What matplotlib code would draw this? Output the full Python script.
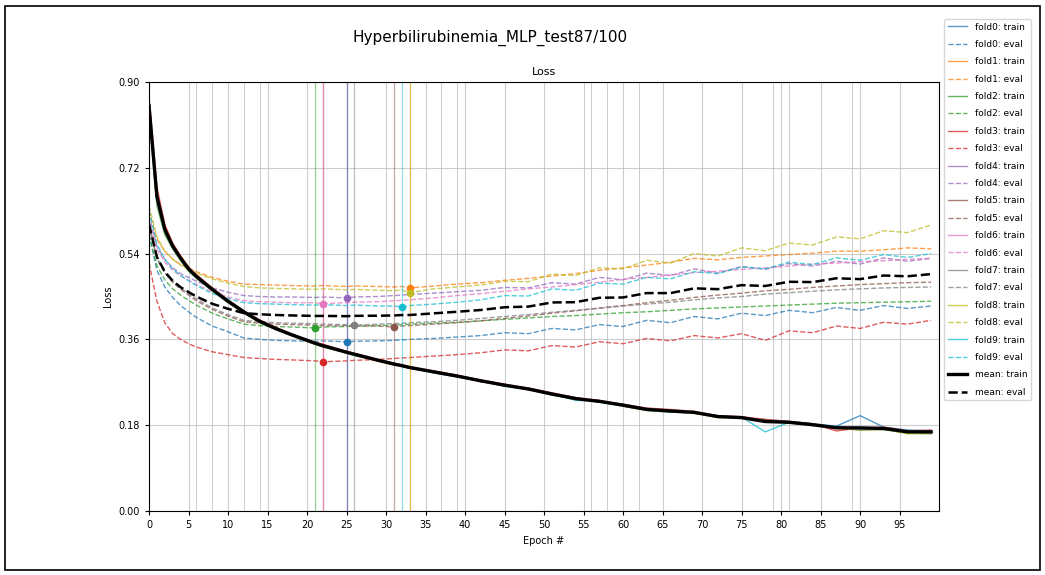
import matplotlib
matplotlib.use("Agg")
import matplotlib.pyplot as plt
from matplotlib.patches import Rectangle
import numpy as np


EPOCHS = [0, 1, 2, 3, 4, 5, 6, 8, 10, 12, 14, 16, 18, 21, 22, 25, 26, 29, 31, 32, 33,
          36, 39, 42, 45, 48, 51, 54, 57, 60, 63, 66, 69, 72, 75, 78, 81, 84, 87, 90,
          93, 96, 99]

fold0_train = [0.84, 0.65, 0.585, 0.552, 0.528, 0.506, 0.49, 0.463, 0.442, 0.42, 0.4, 0.384, 0.372, 0.354, 0.346, 0.335, 0.33, 0.318, 0.31, 0.303, 0.3, 0.29, 0.281, 0.275, 0.262, 0.258, 0.247, 0.238, 0.228, 0.224, 0.215, 0.208, 0.205, 0.2, 0.195, 0.192, 0.188, 0.183, 0.178, 0.2, 0.176, 0.17, 0.168]
fold1_train = [0.86, 0.67, 0.6, 0.56, 0.535, 0.512, 0.495, 0.468, 0.438, 0.416, 0.396, 0.381, 0.369, 0.35, 0.345, 0.331, 0.327, 0.314, 0.306, 0.304, 0.299, 0.294, 0.285, 0.271, 0.266, 0.254, 0.247, 0.234, 0.232, 0.22, 0.211, 0.212, 0.205, 0.2, 0.194, 0.192, 0.184, 0.183, 0.173, 0.17, 0.171, 0.168, 0.164]
fold2_train = [0.83, 0.64, 0.58, 0.55, 0.525, 0.503, 0.488, 0.462, 0.437, 0.415, 0.395, 0.381, 0.368, 0.35, 0.344, 0.332, 0.326, 0.315, 0.307, 0.306, 0.302, 0.29, 0.282, 0.272, 0.262, 0.255, 0.243, 0.235, 0.229, 0.22, 0.211, 0.207, 0.209, 0.196, 0.197, 0.188, 0.185, 0.179, 0.174, 0.17, 0.171, 0.163, 0.162]
fold3_train = [0.87, 0.68, 0.6, 0.562, 0.535, 0.512, 0.496, 0.468, 0.443, 0.42, 0.401, 0.386, 0.372, 0.354, 0.35, 0.335, 0.331, 0.318, 0.31, 0.307, 0.303, 0.294, 0.285, 0.275, 0.266, 0.258, 0.248, 0.238, 0.232, 0.224, 0.216, 0.213, 0.209, 0.2, 0.198, 0.192, 0.188, 0.183, 0.168, 0.174, 0.176, 0.168, 0.17]
fold4_train = [0.85, 0.66, 0.59, 0.556, 0.53, 0.507, 0.491, 0.464, 0.44, 0.419, 0.398, 0.384, 0.371, 0.353, 0.348, 0.334, 0.33, 0.317, 0.309, 0.304, 0.302, 0.292, 0.284, 0.274, 0.265, 0.257, 0.244, 0.237, 0.231, 0.223, 0.214, 0.209, 0.208, 0.197, 0.197, 0.19, 0.187, 0.18, 0.176, 0.172, 0.174, 0.165, 0.167]
fold5_train = [0.85, 0.66, 0.592, 0.556, 0.531, 0.509, 0.493, 0.466, 0.44, 0.418, 0.398, 0.383, 0.37, 0.352, 0.348, 0.333, 0.329, 0.316, 0.308, 0.306, 0.301, 0.292, 0.283, 0.272, 0.264, 0.256, 0.245, 0.236, 0.229, 0.222, 0.213, 0.21, 0.207, 0.198, 0.196, 0.19, 0.186, 0.181, 0.176, 0.172, 0.173, 0.166, 0.166]
fold6_train = [0.84, 0.65, 0.588, 0.553, 0.528, 0.506, 0.49, 0.464, 0.44, 0.417, 0.397, 0.382, 0.369, 0.351, 0.346, 0.332, 0.328, 0.315, 0.307, 0.304, 0.3, 0.291, 0.282, 0.273, 0.263, 0.255, 0.244, 0.235, 0.23, 0.221, 0.212, 0.21, 0.206, 0.197, 0.195, 0.189, 0.185, 0.18, 0.175, 0.171, 0.172, 0.166, 0.165]
fold7_train = [0.86, 0.665, 0.592, 0.557, 0.531, 0.509, 0.493, 0.466, 0.441, 0.417, 0.399, 0.383, 0.37, 0.353, 0.347, 0.332, 0.33, 0.316, 0.309, 0.305, 0.3, 0.292, 0.284, 0.272, 0.264, 0.256, 0.246, 0.236, 0.229, 0.222, 0.212, 0.21, 0.208, 0.198, 0.195, 0.19, 0.187, 0.181, 0.176, 0.172, 0.172, 0.166, 0.167]
fold8_train = [0.84, 0.655, 0.588, 0.553, 0.529, 0.507, 0.491, 0.464, 0.44, 0.418, 0.398, 0.383, 0.369, 0.351, 0.347, 0.333, 0.328, 0.316, 0.308, 0.305, 0.301, 0.292, 0.282, 0.273, 0.264, 0.255, 0.244, 0.236, 0.23, 0.222, 0.213, 0.209, 0.205, 0.196, 0.195, 0.188, 0.185, 0.18, 0.174, 0.171, 0.172, 0.162, 0.163]
fold9_train = [0.86, 0.665, 0.592, 0.556, 0.531, 0.509, 0.492, 0.465, 0.44, 0.418, 0.398, 0.383, 0.37, 0.352, 0.347, 0.334, 0.329, 0.317, 0.309, 0.305, 0.302, 0.293, 0.283, 0.274, 0.264, 0.256, 0.246, 0.232, 0.231, 0.222, 0.214, 0.21, 0.207, 0.199, 0.197, 0.166, 0.186, 0.181, 0.176, 0.172, 0.174, 0.167, 0.168]

fold0_eval = [0.58, 0.505, 0.47, 0.448, 0.431, 0.418, 0.406, 0.388, 0.376, 0.363, 0.36, 0.358, 0.357, 0.356, 0.357, 0.355, 0.356, 0.357, 0.358, 0.359, 0.36, 0.362, 0.365, 0.368, 0.374, 0.372, 0.383, 0.38, 0.391, 0.387, 0.4, 0.395, 0.408, 0.403, 0.415, 0.41, 0.421, 0.416, 0.427, 0.421, 0.431, 0.425, 0.43]
fold1_eval = [0.63, 0.57, 0.545, 0.528, 0.517, 0.509, 0.502, 0.49, 0.482, 0.476, 0.475, 0.474, 0.473, 0.472, 0.473, 0.471, 0.472, 0.471, 0.47, 0.471, 0.468, 0.472, 0.476, 0.479, 0.484, 0.488, 0.493, 0.498, 0.505, 0.51, 0.516, 0.522, 0.53, 0.527, 0.532, 0.535, 0.538, 0.541, 0.545, 0.545, 0.548, 0.552, 0.55]
fold2_eval = [0.58, 0.515, 0.485, 0.466, 0.453, 0.442, 0.432, 0.415, 0.403, 0.392, 0.389, 0.387, 0.386, 0.384, 0.386, 0.387, 0.388, 0.389, 0.39, 0.391, 0.392, 0.394, 0.396, 0.399, 0.402, 0.405, 0.408, 0.41, 0.413, 0.416, 0.418, 0.421, 0.424, 0.426, 0.428, 0.43, 0.432, 0.434, 0.436, 0.437, 0.438, 0.439, 0.44]
fold3_eval = [0.52, 0.44, 0.395, 0.372, 0.36, 0.351, 0.344, 0.334, 0.328, 0.322, 0.32, 0.318, 0.317, 0.315, 0.313, 0.315, 0.316, 0.318, 0.32, 0.321, 0.322, 0.325, 0.328, 0.332, 0.338, 0.336, 0.347, 0.344, 0.355, 0.351, 0.362, 0.357, 0.368, 0.363, 0.372, 0.358, 0.378, 0.374, 0.388, 0.383, 0.396, 0.392, 0.4]
fold4_eval = [0.62, 0.555, 0.528, 0.51, 0.498, 0.49, 0.482, 0.468, 0.459, 0.452, 0.45, 0.449, 0.449, 0.448, 0.449, 0.447, 0.449, 0.45, 0.452, 0.453, 0.454, 0.457, 0.46, 0.463, 0.469, 0.468, 0.479, 0.476, 0.49, 0.485, 0.499, 0.494, 0.508, 0.499, 0.513, 0.507, 0.519, 0.514, 0.524, 0.518, 0.531, 0.524, 0.53]
fold5_eval = [0.6, 0.53, 0.5, 0.48, 0.465, 0.453, 0.441, 0.423, 0.409, 0.397, 0.394, 0.392, 0.391, 0.39, 0.389, 0.389, 0.388, 0.388, 0.386, 0.388, 0.389, 0.392, 0.395, 0.399, 0.404, 0.409, 0.415, 0.42, 0.426, 0.431, 0.437, 0.442, 0.448, 0.453, 0.457, 0.462, 0.465, 0.469, 0.472, 0.475, 0.477, 0.479, 0.48]
fold6_eval = [0.61, 0.55, 0.522, 0.505, 0.493, 0.484, 0.475, 0.46, 0.449, 0.441, 0.439, 0.438, 0.437, 0.437, 0.435, 0.437, 0.438, 0.439, 0.441, 0.442, 0.443, 0.447, 0.452, 0.456, 0.461, 0.466, 0.47, 0.475, 0.48, 0.486, 0.49, 0.495, 0.5, 0.503, 0.507, 0.51, 0.514, 0.518, 0.52, 0.523, 0.525, 0.528, 0.53]
fold7_eval = [0.6, 0.53, 0.5, 0.482, 0.468, 0.456, 0.445, 0.426, 0.412, 0.4, 0.397, 0.395, 0.394, 0.393, 0.392, 0.391, 0.39, 0.392, 0.393, 0.394, 0.395, 0.397, 0.4, 0.404, 0.408, 0.412, 0.417, 0.421, 0.425, 0.43, 0.434, 0.438, 0.443, 0.447, 0.45, 0.455, 0.458, 0.461, 0.464, 0.466, 0.468, 0.469, 0.47]
fold8_eval = [0.64, 0.575, 0.545, 0.528, 0.516, 0.507, 0.499, 0.487, 0.478, 0.471, 0.468, 0.467, 0.466, 0.465, 0.466, 0.464, 0.465, 0.463, 0.462, 0.464, 0.458, 0.466, 0.47, 0.474, 0.482, 0.481, 0.497, 0.494, 0.51, 0.508, 0.526, 0.52, 0.54, 0.535, 0.552, 0.546, 0.562, 0.558, 0.575, 0.571, 0.588, 0.584, 0.6]
fold9_eval = [0.63, 0.56, 0.528, 0.508, 0.494, 0.483, 0.473, 0.456, 0.446, 0.437, 0.435, 0.434, 0.433, 0.432, 0.433, 0.431, 0.432, 0.43, 0.43, 0.428, 0.431, 0.434, 0.438, 0.443, 0.452, 0.451, 0.466, 0.463, 0.478, 0.476, 0.49, 0.487, 0.502, 0.498, 0.512, 0.508, 0.522, 0.517, 0.531, 0.526, 0.538, 0.532, 0.54]

marked_epochs = [6, 8, 12, 14, 37, 39, 56, 58, 62, 79, 81, 89]

X_TICKS = list(range(0, 100, 5))
Y_TICKS = [0.0, 0.18, 0.36, 0.54, 0.72, 0.90]

TITLE = "Hyperbilirubinemia_MLP_test87/100"


def main():
    train = np.array([fold0_train, fold1_train, fold2_train, fold3_train, fold4_train,
                      fold5_train, fold6_train, fold7_train, fold8_train, fold9_train])
    evals = np.array([fold0_eval, fold1_eval, fold2_eval, fold3_eval, fold4_eval,
                      fold5_eval, fold6_eval, fold7_eval, fold8_eval, fold9_eval])
    epochs = np.array(EPOCHS)

    fig = plt.figure(figsize=(10.45, 5.75), dpi=100)
    ax = fig.add_axes([0.1426, 0.1113, 0.7560, 0.7461])

    for x in marked_epochs:
        ax.axvline(x, color="#9a9a9a", lw=0.7, alpha=0.5, zorder=0)

    for k in range(10):
        color = f"C{k}"
        ax.plot(epochs, train[k], color=color, lw=1.0, alpha=0.75,
                label=f"fold{k}: train")
        ax.plot(epochs, evals[k], color=color, lw=1.0, ls="--", alpha=0.75,
                label=f"fold{k}: eval")
        # best epoch per fold = lowest eval loss
        best = int(np.argmin(evals[k]))
        ax.axvline(epochs[best], color=color, lw=0.9, alpha=0.5)
        ax.plot(epochs[best], evals[k][best], "o", color=color, ms=4.5, zorder=5)

    ax.plot(epochs, train.mean(axis=0), color="black", lw=2.4, label="mean: train")
    ax.plot(epochs, evals.mean(axis=0), color="black", lw=1.8, ls="--",
            label="mean: eval")

    ax.set_xlim(0, 100)
    ax.set_ylim(0, 0.9)
    ax.set_xticks(X_TICKS)
    ax.set_yticks(Y_TICKS)
    ax.set_yticklabels([f"{v:.2f}" for v in Y_TICKS])
    ax.tick_params(labelsize=7, length=3)
    ax.grid(True, color="#b8b8b8", lw=0.8, alpha=0.7)
    ax.set_axisbelow(True)

    ax.set_title("Loss", fontsize=8, pad=5)
    ax.set_xlabel("Epoch #", fontsize=7)
    ax.set_ylabel("Loss", fontsize=7)

    fig.text(0.469, 0.934, TITLE, ha="center", va="center", fontsize=11)

    fig.legend(loc="upper left", bbox_to_anchor=(0.899, 0.975), fontsize=6.5,
               labelspacing=0.93, handlelength=2.2, framealpha=0.8)

    fig.patches.append(Rectangle((5 / 1045, 5 / 575), 1035 / 1045, 564 / 575,
                                 transform=fig.transFigure, fill=False,
                                 edgecolor="black", lw=1.2))

    fig.savefig("out.png", dpi=100)
    plt.close(fig)


if __name__ == "__main__":
    main()
